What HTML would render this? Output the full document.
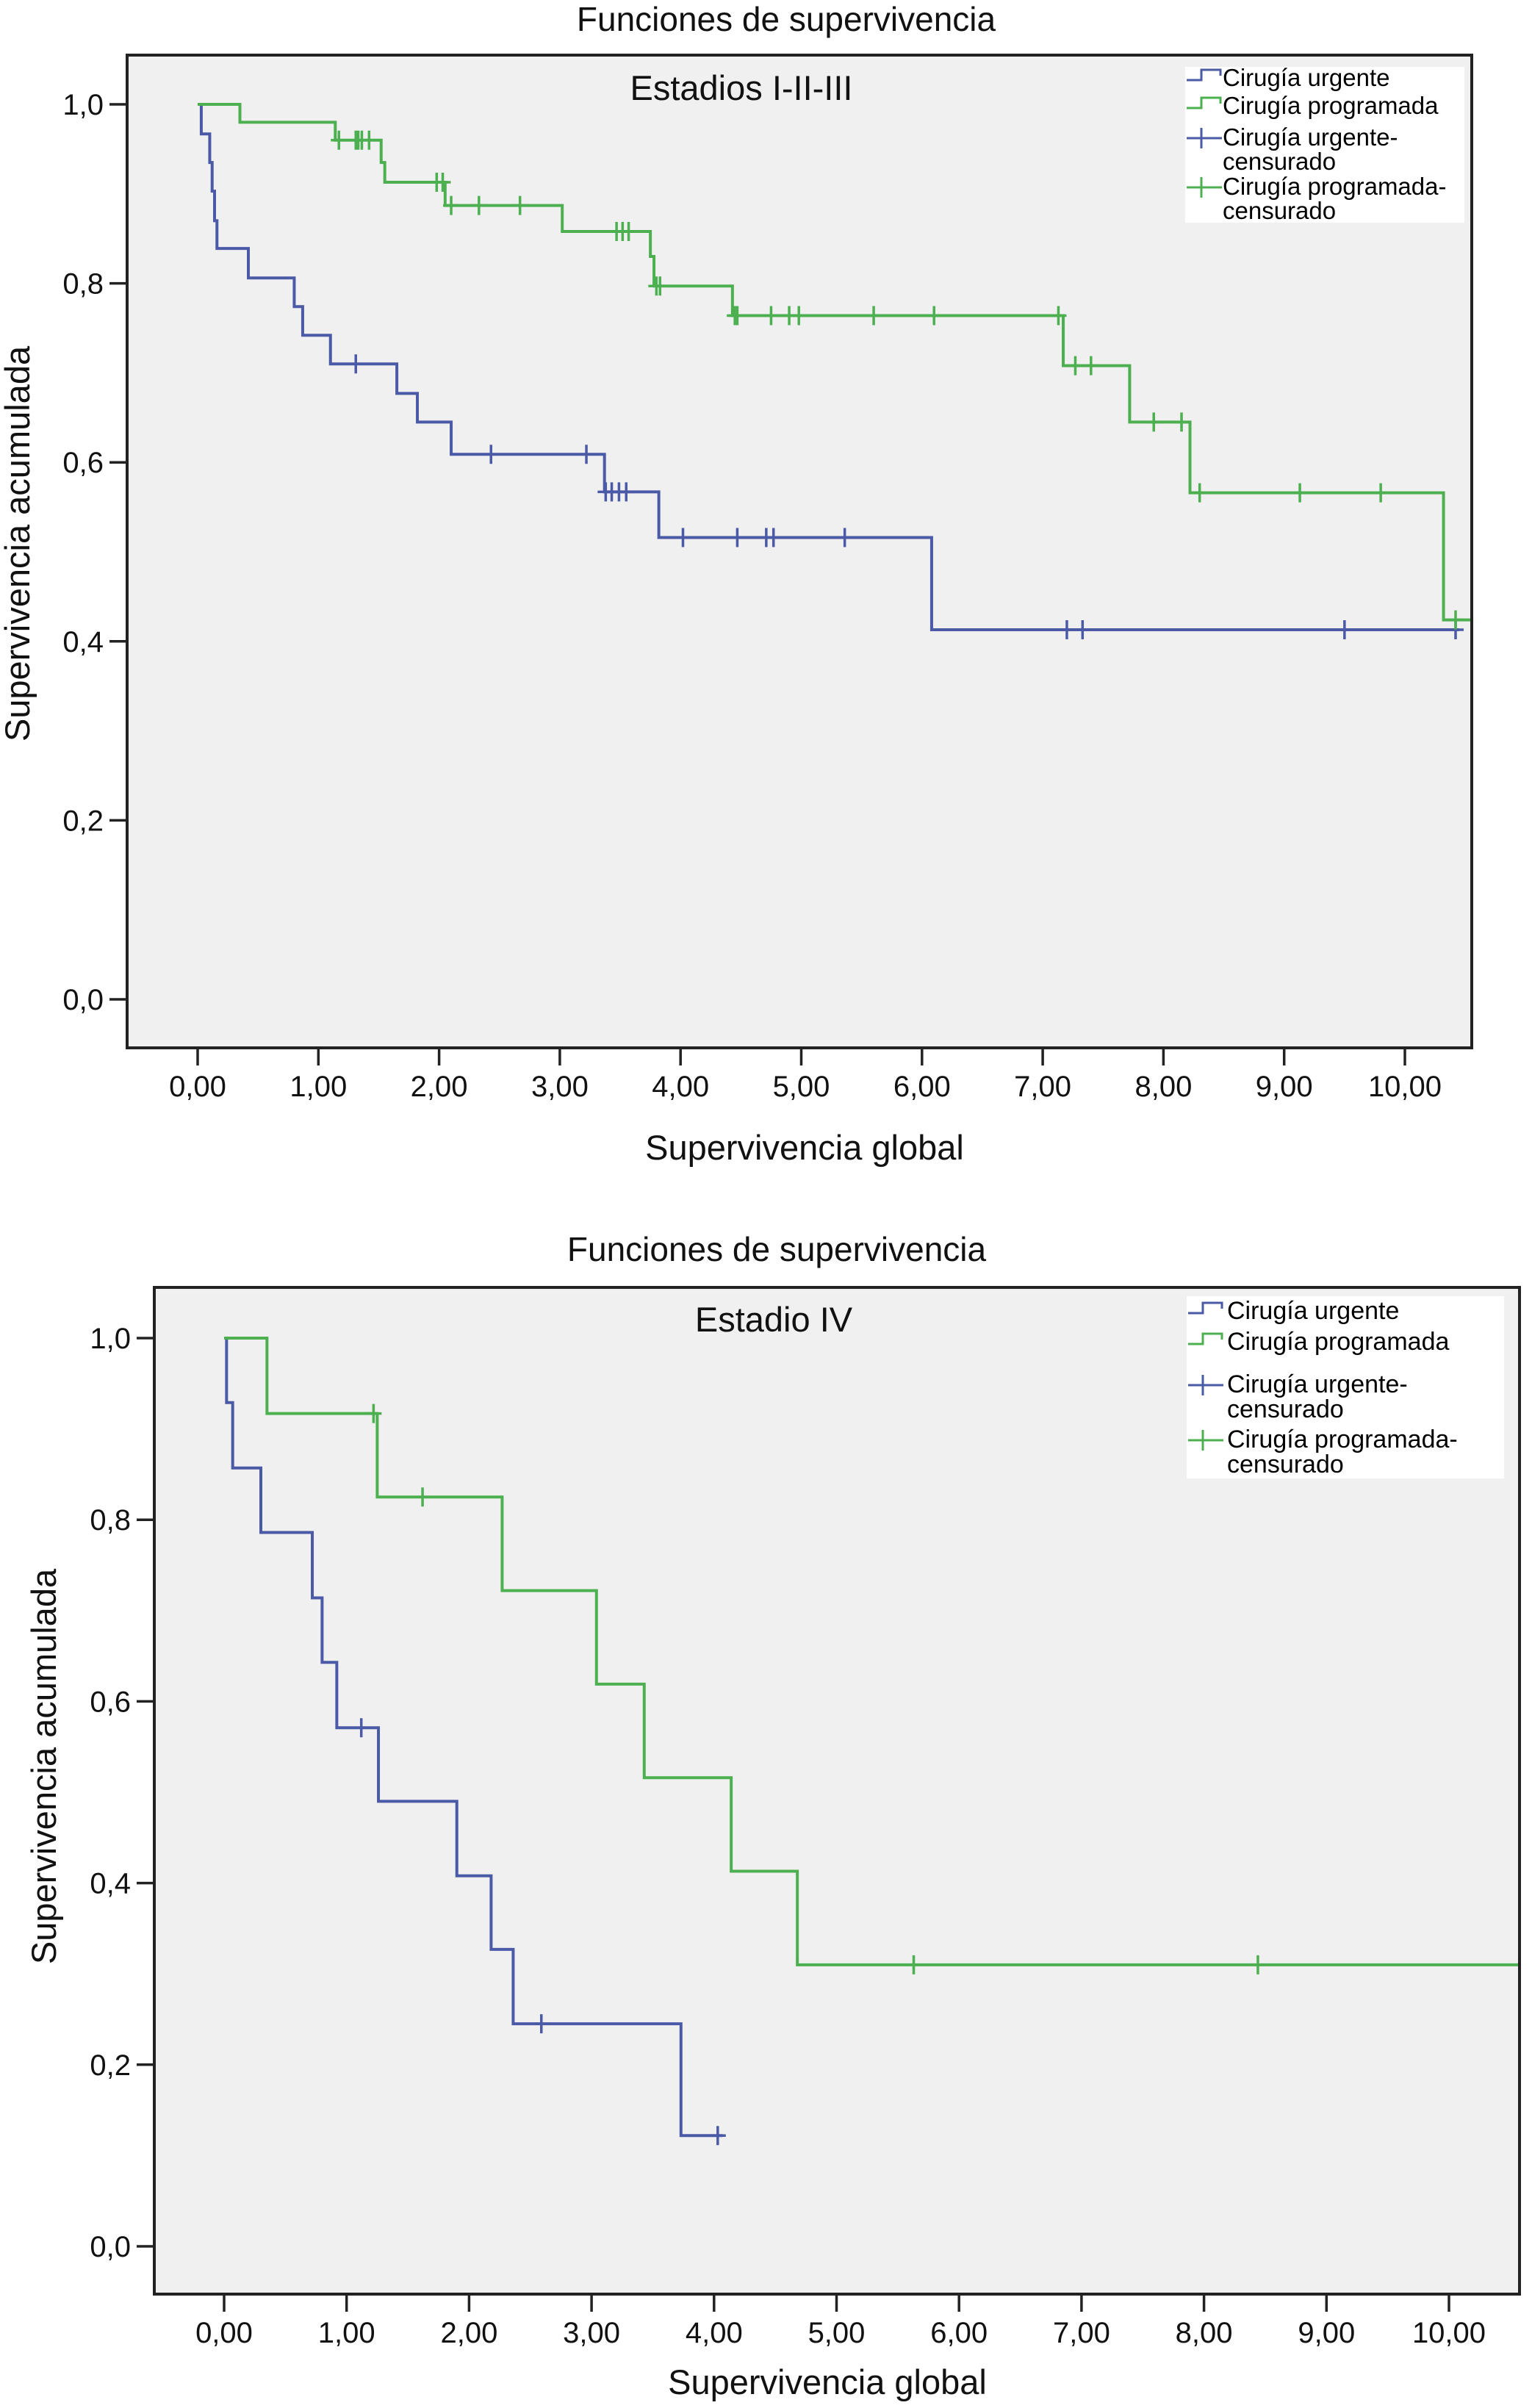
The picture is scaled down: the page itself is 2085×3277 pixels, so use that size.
<!DOCTYPE html>
<html><head><meta charset="utf-8"><style>
html,body{margin:0;padding:0;background:#fff;}
svg{display:block;font-family:"Liberation Sans",Arial,sans-serif;}
</style></head><body>
<svg id="svg" width="2085" height="3277" viewBox="0 0 2085 3277" xmlns="http://www.w3.org/2000/svg">
<rect width="2085" height="3277" fill="#fff"/>
<g id="c1"></g>
<g id="c2"></g>
</svg>
<script>
// ===== Chart 1 data (Estadios I-II-III) =====
const c1UrgTimes  = [0, 0.03, 0.10, 0.12, 0.14, 0.16, 0.42, 0.80, 0.87, 1.10, 1.65, 1.82, 2.10, 3.37, 3.82, 6.08];
const c1UrgSurv   = [1.0, 0.967, 0.935, 0.903, 0.870, 0.839, 0.806, 0.774, 0.742, 0.710, 0.677, 0.645, 0.609, 0.567, 0.516, 0.413];
const c1UrgEnd    = 10.45;
const c1UrgCens   = [1.31, 2.43, 3.22, 3.38, 3.43, 3.49, 3.55, 4.02, 4.47, 4.71, 4.77, 5.36, 7.20, 7.33, 9.50, 10.42];
const c1ProTimes  = [0, 0.35, 1.14, 1.52, 1.55, 2.05, 3.02, 3.75, 3.78, 4.43, 7.17, 7.72, 8.22, 10.32];
const c1ProSurv   = [1.0, 0.980, 0.960, 0.935, 0.913, 0.887, 0.858, 0.830, 0.797, 0.764, 0.708, 0.645, 0.566, 0.424];
const c1ProEnd    = 10.55;
const c1ProCens   = [1.17, 1.31, 1.33, 1.36, 1.42, 1.98, 2.03, 2.10, 2.33, 2.67, 3.47, 3.52, 3.57, 3.80, 3.83, 4.45, 4.47, 4.75, 4.90, 4.98, 5.60, 6.10, 7.13, 7.27, 7.40, 7.92, 8.15, 8.30, 9.13, 9.80, 10.42];
// ===== Chart 2 data (Estadio IV) =====
const c2UrgTimes  = [0, 0.02, 0.07, 0.30, 0.72, 0.80, 0.92, 1.26, 1.90, 2.18, 2.36, 3.73];
const c2UrgSurv   = [1.0, 0.929, 0.857, 0.786, 0.714, 0.643, 0.571, 0.490, 0.408, 0.327, 0.245, 0.122];
const c2UrgEnd    = 4.07;
const c2UrgCens   = [1.12, 2.59, 4.03];
const c2ProTimes  = [0, 0.35, 1.25, 2.27, 3.04, 3.43, 4.14, 4.68];
const c2ProSurv   = [1.0, 0.917, 0.825, 0.722, 0.619, 0.516, 0.413, 0.310];
const c2ProEnd    = 10.57;
const c2ProCens   = [1.22, 1.62, 5.63, 8.44];
const xTickLabels = ["0,00","1,00","2,00","3,00","4,00","5,00","6,00","7,00","8,00","9,00","10,00"];
const yTickLabels = ["0,0","0,2","0,4","0,6","0,8","1,0"];

const NS="http://www.w3.org/2000/svg";
const BLUE="#4b5aa6", GREEN="#4cb050";
function mk(parent,tag,attrs,text){const e=document.createElementNS(NS,tag);for(const k in attrs)e.setAttribute(k,attrs[k]);if(text!==undefined)e.textContent=text;parent.appendChild(e);return e;}

function drawChart(g,cfg){
  const sx=t=>cfg.x0+(cfg.x10-cfg.x0)*t/10;
  const sy=v=>cfg.y0+(cfg.y1-cfg.y0)*v;
  const bg=mk(g,'rect',{x:cfg.L,y:cfg.T,width:cfg.R-cfg.L,height:cfg.B-cfg.T,fill:'#f0f0f0'});
  
  
  const t=mk(g,'text',{x:cfg.titleX,y:cfg.titleY,'font-size':46,'text-anchor':'middle',fill:'#111'},'Funciones de supervivencia');
  
  
  const st=mk(g,'text',{x:cfg.subX,y:cfg.subY,'font-size':47,'text-anchor':'middle',fill:'#111'},cfg.sub);
  
  
  yTickLabels.forEach((lab,i)=>{
    const v=i*0.2,y=sy(v);
    const tk=mk(g,'line',{x1:cfg.L-24,x2:cfg.L,y1:y,y2:y,stroke:'#222','stroke-width':3.5});
    
    
    const tl=mk(g,'text',{x:cfg.L-32,y:y+14,'font-size':40,'text-anchor':'end',fill:'#111'},lab);
    
    
  });
  xTickLabels.forEach((lab,i)=>{
    const x=sx(i);
    const tk=mk(g,'line',{x1:x,x2:x,y1:cfg.B,y2:cfg.B+24,stroke:'#222','stroke-width':3.5});
    
    
    const tl=mk(g,'text',{x:x,y:cfg.B+66,'font-size':40,'text-anchor':'middle',fill:'#111'},lab);
    
    
  });
  const xt=mk(g,'text',{x:cfg.xtX,y:cfg.xtY,'font-size':47,'text-anchor':'middle',fill:'#111'},'Supervivencia global');
  
  
  const yt=mk(g,'text',{x:0,y:0,'font-size':47,'text-anchor':'middle',fill:'#111',transform:`translate(${cfg.ytX},${cfg.ytY}) rotate(-90)`},'Supervivencia acumulada');
  
  
  cfg.series.forEach(s=>{
    let d=`M${sx(s.times[0])},${sy(s.surv[0])}`;
    for(let i=1;i<s.times.length;i++){d+=` H${sx(s.times[i])} V${sy(s.surv[i])}`;}
    d+=` H${sx(s.end)}`;
    const p=mk(g,'path',{d:d,fill:'none',stroke:s.color,'stroke-width':4});
    
    
    s.cens.forEach(c=>{
      let v=s.surv[0];
      for(let i=0;i<s.times.length;i++){if(s.times[i]<=c)v=s.surv[i];}
      const x=sx(c),y=sy(v);
      const m=mk(g,'path',{d:`M${x},${y-13} V${y+13} M${x-11},${y} H${x+11}`,stroke:s.color,'stroke-width':3.5,fill:'none'});
      
      
    });
  });
  const fr=mk(g,'rect',{x:cfg.L,y:cfg.T,width:cfg.R-cfg.L,height:cfg.B-cfg.T,fill:'none',stroke:'#222','stroke-width':4});
  
  
  const lg=mk(g,'g',{});
  
  
  const L=cfg.leg;
  mk(lg,'rect',{x:L.x,y:L.y,width:L.w,height:L.h,fill:'#fff'});
  const entries=[
    {txt:['Cirugía urgente'],col:BLUE,step:true,b:L.b[0]},
    {txt:['Cirugía programada'],col:GREEN,step:true,b:L.b[1]},
    {txt:['Cirugía urgente-','censurado'],col:BLUE,step:false,b:L.b[2]},
    {txt:['Cirugía programada-','censurado'],col:GREEN,step:false,b:L.b[3]}];
  entries.forEach((e,i)=>{
    const eg=mk(lg,'g',{});
    
    
    const ix=L.x+2,iy=e.b-10;
    if(e.step){mk(eg,'path',{d:`M${ix},${iy+2} H${ix+20} V${iy-12} H${ix+46} V${iy-4}`,fill:'none',stroke:e.col,'stroke-width':3});}
    else{mk(eg,'path',{d:`M${ix},${iy} H${ix+48} M${ix+20},${iy-14} V${iy+14}`,fill:'none',stroke:e.col,'stroke-width':3});}
    e.txt.forEach((tx,j)=>{mk(eg,'text',{x:L.tx,y:e.b+j*L.ls,'font-size':L.fs,fill:'#000'},tx);});
  });
}

drawChart(document.getElementById('c1'),{
  L:173,R:2003,T:75,B:1426,x0:269,x10:1912,y0:1360,y1:142,
  titleX:1070,titleY:42,subX:1009,subY:136,sub:'Estadios I-II-III',
  xtX:1095,xtY:1578,ytX:40,ytY:740,
  series:[
    {name:'urgente',color:BLUE,times:c1UrgTimes,surv:c1UrgSurv,end:c1UrgEnd,cens:c1UrgCens},
    {name:'programada',color:GREEN,times:c1ProTimes,surv:c1ProSurv,end:c1ProEnd,cens:c1ProCens}],
  leg:{x:1613,y:91,w:380,h:212,tx:1664,fs:33,ls:33,b:[117,155,198,265]}
});
drawChart(document.getElementById('c2'),{
  L:210,R:2068,T:1752,B:3122,x0:305,x10:1972,y0:3057,y1:1821,
  titleX:1057,titleY:1716,subX:1053,subY:1812,sub:'Estadio IV',
  xtX:1126,xtY:3258,ytX:76,ytY:2404,
  series:[
    {name:'urgente',color:BLUE,times:c2UrgTimes,surv:c2UrgSurv,end:c2UrgEnd,cens:c2UrgCens},
    {name:'programada',color:GREEN,times:c2ProTimes,surv:c2ProSurv,end:c2ProEnd,cens:c2ProCens}],
  leg:{x:1615,y:1764,w:432,h:248,tx:1670,fs:34,ls:34,b:[1795,1837,1895,1970]}
});
</script>
</body></html>
